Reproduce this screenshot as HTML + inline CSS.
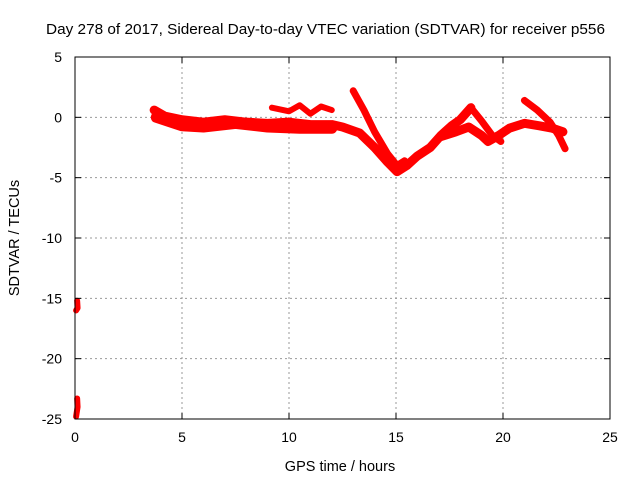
<!DOCTYPE html>
<html><head><meta charset="utf-8"><style>
body{margin:0;background:#fff}
svg{display:block;font-family:"Liberation Sans",sans-serif}
</style></head><body>
<svg id="c" width="640" height="480">
<rect width="640" height="480" fill="#fff"/>
<text x="46" y="34" font-size="15" textLength="559" lengthAdjust="spacingAndGlyphs">Day 278 of 2017, Sidereal Day-to-day VTEC variation (SDTVAR) for receiver p556</text>
<text x="340" y="471" font-size="14.5" text-anchor="middle">GPS time / hours</text>
<text transform="translate(19,238) rotate(-90)" font-size="14.5" text-anchor="middle">SDTVAR / TECUs</text>
<g id="grid"></g><g id="marks"></g>
<rect x="75" y="57" width="535" height="362" fill="none" stroke="#000" stroke-width="1"/>
<g id="ticks"></g>
</svg>
<script>
const xTicks=[0,5,10,15,20,25];
const yTicks=[5,0,-5,-10,-15,-20,-25];
const trackMain=[[3.7,0.6],[4.2,0.1],[5,-0.2],[6,-0.4],[7,-0.2],[8,-0.4],[9,-0.5],[10,-0.4],[11,-0.6],[12,-0.6],[12.5,-0.8],[13.3,-1.3],[14,-2.5],[14.6,-3.7],[15.05,-4.5],[15.5,-4.0],[16,-3.2],[16.6,-2.5],[17.1,-1.5],[17.6,-0.7],[18.0,-0.2],[18.5,0.8]];
const trackMain2=[[17.1,-1.6],[17.8,-1.2],[18.4,-0.8],[19.0,-1.5],[19.3,-2.0],[19.8,-1.5],[20.3,-0.9],[21,-0.5],[21.7,-0.7],[22.3,-0.9],[22.8,-1.2]];
const trackFall=[[13.0,2.2],[13.5,0.6],[14.0,-1.2],[14.6,-3.0],[15.05,-4.0],[15.4,-3.6]];
const trackFall2=[[18.5,0.8],[19.0,-0.3],[19.5,-1.5],[19.9,-2.0]];
const trackRight=[[21.0,1.4],[21.6,0.6],[22.2,-0.4],[22.6,-1.5],[22.9,-2.6]];
const trackBump=[[9.2,0.8],[10.0,0.5],[10.5,1.0],[11.0,0.3],[11.5,0.9],[12.0,0.6]];
const trackBand2=[[3.8,0.0],[5,-0.7],[6,-0.8],[7.5,-0.5],[9,-0.8],[10.5,-0.9],[12,-0.9]];
const clusterA=[[0.1,-15.2],[0.12,-15.8],[0.05,-16.0]];
const clusterB=[[0.1,-23.3],[0.12,-24.0],[0.05,-24.8]];
const X=h=>75+h*21.4, Y=v=>57+(5-v)*12.067;
const ns="http://www.w3.org/2000/svg";
const grid=document.getElementById('grid'),ticks=document.getElementById('ticks'),marks=document.getElementById('marks');
function mk(t,a,p){const e=document.createElementNS(ns,t);for(const k in a)e.setAttribute(k,a[k]);p.appendChild(e);return e;}
xTicks.forEach(t=>{
 if(t>0&&t<25){const g=mk('line',{x1:X(t),x2:X(t),y1:57,y2:419,stroke:'#999','stroke-dasharray':'2,3'},grid);
 
 }
 const l=mk('text',{x:X(t),y:442,'font-size':14,'text-anchor':'middle'},ticks);l.textContent=t;
 
 
 mk('line',{x1:X(t),x2:X(t),y1:419,y2:413,stroke:'#000'},ticks);mk('line',{x1:X(t),x2:X(t),y1:57,y2:63,stroke:'#000'},ticks);
});
yTicks.forEach(t=>{
 if(t<5&&t>-25){const g=mk('line',{x1:75,x2:610,y1:Y(t),y2:Y(t),stroke:'#999','stroke-dasharray':'2,3'},grid);
 
 }
 const l=mk('text',{x:62,y:Y(t)+5,'font-size':14,'text-anchor':'end'},ticks);l.textContent=t;
 
 
 mk('line',{x1:75,x2:81,y1:Y(t),y2:Y(t),stroke:'#000'},ticks);mk('line',{x1:604,x2:610,y1:Y(t),y2:Y(t),stroke:'#000'},ticks);
});
function track(arr,w,name){
 const p=mk('polyline',{points:arr.map(d=>X(d[0])+','+Y(d[1])).join(' '),fill:'none',stroke:'#f00','stroke-width':w,'stroke-linejoin':'round','stroke-linecap':'round'},marks);
 
 
}
track(trackBand2,11,'sdtvar-band-lower');
track(trackMain,9,'sdtvar-track-main');
track(trackMain2,9,'sdtvar-track-main-2');
track(trackFall,7,'sdtvar-track-falling');
track(trackFall2,7,'sdtvar-track-falling-2');
track(trackRight,7,'sdtvar-track-right');
track(trackBump,6,'sdtvar-track-bump');
track(clusterA,6,'sdtvar-cluster-early-1');
track(clusterB,6,'sdtvar-cluster-early-2');
</script>
</body></html>
